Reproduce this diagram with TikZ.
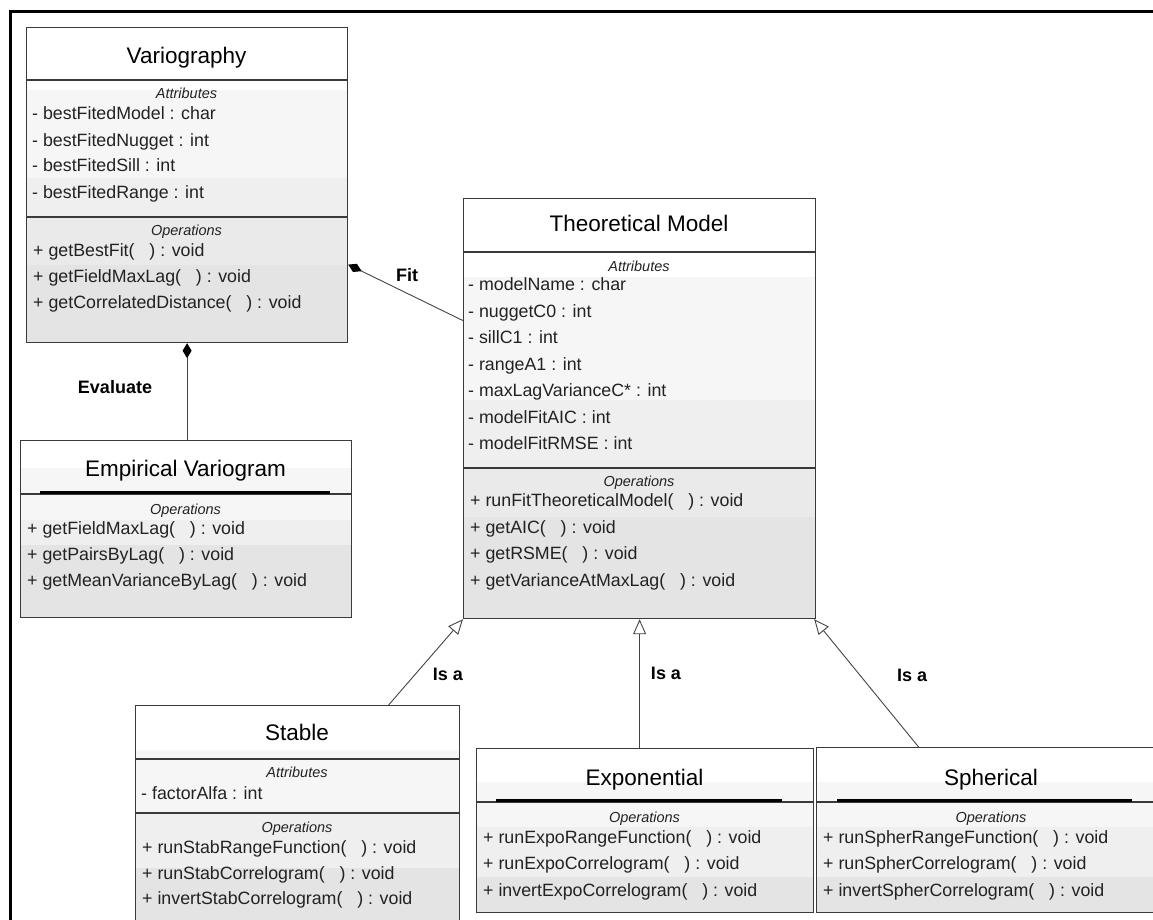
\documentclass[tikz,border=0pt]{standalone}
\usepackage{fontspec}
\setmainfont{Liberation Sans}
\usetikzlibrary{arrows.meta}
\definecolor{bA}{HTML}{F6F6F6}
\definecolor{bB}{HTML}{EFEFEF}
\definecolor{bC}{HTML}{EAEAEA}
\definecolor{bD}{HTML}{E4E4E4}
\definecolor{boxc}{HTML}{3A3A3A}
\definecolor{txtc}{HTML}{222222}
\definecolor{conc}{HTML}{444444}
\begin{document}
\begin{tikzpicture}[x=1pt,y=-1pt,
  cls/.style={draw=boxc, line width=1.2pt, inner sep=0pt, anchor=north west, fill=none},
  sepline/.style={draw=boxc, line width=1.4pt},
  thickline/.style={draw=black, line width=3pt},
  rowtxt/.style={anchor=base west, inner sep=0pt, text=txtc, font=\fontsize{17.8}{20}\selectfont},
  lbltxt/.style={anchor=base, inner sep=0pt, text=txtc, font=\itshape\fontsize{14.5}{16}\selectfont},
  ttltxt/.style={anchor=base, inner sep=0pt, text=black, font=\fontsize{22.5}{26}\selectfont},
  contxt/.style={anchor=center, inner sep=0pt, text=black, font=\bfseries\fontsize{18}{20}\selectfont},
  assoc/.style={draw=conc, line width=0.9pt, {Diamond[length=15pt,width=9pt,fill=black,color=black]}-},
  isa/.style={draw=conc, line width=0.9pt, -{Triangle[open,length=15pt,width=13pt]}}
]
\useasboundingbox (0,0) rectangle (1153,920);
\fill[white] (0,0) rectangle (1153,920);

% ---------- bands ----------
\fill[bA] (26,90) rectangle (347,178);
\fill[bB] (26,178) rectangle (347,217);
\fill[bC] (26,217) rectangle (347,265);
\fill[bD] (26,265) rectangle (347,342);

\fill[bA] (20,468) rectangle (351,520);
\fill[bB] (20,520) rectangle (351,545);
\fill[bD] (20,545) rectangle (351,617);

\fill[bA] (463,277) rectangle (815,400);
\fill[bB] (463,400) rectangle (815,468);
\fill[bC] (463,468) rectangle (815,517);
\fill[bD] (463,517) rectangle (815,618);

\fill[bA] (135,750) rectangle (459,813);
\fill[bB] (135,813) rectangle (459,868);
\fill[bD] (135,868) rectangle (459,935);

\fill[bA] (476,782) rectangle (813,827);
\fill[bB] (476,827) rectangle (813,877);
\fill[bD] (476,877) rectangle (813,912);

\fill[bA] (816,782) rectangle (1166,827);
\fill[bB] (816,827) rectangle (1166,877);
\fill[bD] (816,877) rectangle (1166,912);

% ---------- class boxes ----------
\node[cls, minimum width=321pt, minimum height=315pt] (var) at (26,27) {};
\node[cls, minimum width=331pt, minimum height=177pt] (emp) at (20,440) {};
\node[cls, minimum width=352pt, minimum height=420pt] (theo) at (463,198) {};
\node[cls, minimum width=324pt, minimum height=230pt] (stab) at (135,705) {};
\node[cls, minimum width=337pt, minimum height=164pt] (expo) at (476,748) {};
\node[cls, minimum width=350pt, minimum height=165pt] (sph) at (816,747) {};

% separators
\draw[sepline] (26,80) -- (347,80);
\draw[sepline] (26,217) -- (347,217);
\draw[sepline] (20,494) -- (351,494);
\draw[thickline] (40,492) -- (330,492);
\draw[sepline] (463,252) -- (815,252);
\draw[sepline] (463,468) -- (815,468);
\draw[sepline] (135,759) -- (459,759);
\draw[sepline] (135,813) -- (459,813);
\draw[sepline] (476,802) -- (813,802);
\draw[thickline] (496,800) -- (782,800);
\draw[sepline] (816,802) -- (1166,802);
\draw[thickline] (837,800) -- (1132,800);

% ---------- Variography ----------
\node[ttltxt] (varT) at (186.5,64) {Variography};
\node[lbltxt] (varA) at (186.5,99) {Attributes};
\node[rowtxt] (var1) at (32,120) {- bestFitedModel : char};
\node[rowtxt] (var2) at (32,146.5) {- bestFitedNugget : int};
\node[rowtxt] (var3) at (32,172) {- bestFitedSill : int};
\node[rowtxt] (var4) at (32,198) {- bestFitedRange : int};
\node[lbltxt] (varO) at (186.5,235.5) {Operations};
\node[rowtxt] (var5) at (33,256) {+ getBestFit(\ \ \ ) : void};
\node[rowtxt] (var6) at (33,282.5) {+ getFieldMaxLag(\ \ \ ) : void};
\node[rowtxt] (var7) at (33,308.5) {+ getCorrelatedDistance(\ \ \ ) : void};

% ---------- Empirical Variogram ----------
\node[ttltxt] (empT) at (185.5,476.5) {Empirical Variogram};
\node[lbltxt] (empO) at (185.5,514) {Operations};
\node[rowtxt] (emp1) at (27,534) {+ getFieldMaxLag(\ \ \ ) : void};
\node[rowtxt] (emp2) at (27,560.5) {+ getPairsByLag(\ \ \ ) : void};
\node[rowtxt] (emp3) at (27,586.5) {+ getMeanVarianceByLag(\ \ \ ) : void};

% ---------- Theoretical Model ----------
\node[ttltxt] (theoT) at (639,231) {Theoretical Model};
\node[lbltxt] (theoA) at (639,271.5) {Attributes};
\node[rowtxt] (theo1) at (468,290.5) {- modelName : char};
\node[rowtxt] (theo2) at (468,317.5) {- nuggetC0 : int};
\node[rowtxt] (theo3) at (468,343.5) {- sillC1 : int};
\node[rowtxt] (theo4) at (468,370.5) {- rangeA1 : int};
\node[rowtxt] (theo5) at (468,396.5) {- maxLagVarianceC* : int};
\node[rowtxt] (theo6) at (468,423.5) {- modelFitAIC : int};
\node[rowtxt] (theo7) at (468,449.5) {- modelFitRMSE : int};
\node[lbltxt] (theoO) at (639,486) {Operations};
\node[rowtxt] (theo8) at (470,506) {+ runFitTheoreticalModel(\ \ \ ) : void};
\node[rowtxt] (theo9) at (470,533) {+ getAIC(\ \ \ ) : void};
\node[rowtxt] (theo10) at (470,559) {+ getRSME(\ \ \ ) : void};
\node[rowtxt] (theo11) at (470,586) {+ getVarianceAtMaxLag(\ \ \ ) : void};

% ---------- Stable ----------
\node[ttltxt] (stabT) at (297,740) {Stable};
\node[lbltxt] (stabA) at (297,777) {Attributes};
\node[rowtxt] (stab1) at (141,799) {- factorAlfa : int};
\node[lbltxt] (stabO) at (297,832) {Operations};
\node[rowtxt] (stab2) at (142,853) {+ runStabRangeFunction(\ \ \ ) : void};
\node[rowtxt] (stab3) at (142,879) {+ runStabCorrelogram(\ \ \ ) : void};
\node[rowtxt] (stab4) at (142,904) {+ invertStabCorrelogram(\ \ \ ) : void};

% ---------- Exponential ----------
\node[ttltxt] (expoT) at (644.5,785) {Exponential};
\node[lbltxt] (expoO) at (644.5,822) {Operations};
\node[rowtxt] (expo1) at (483,843) {+ runExpoRangeFunction(\ \ \ ) : void};
\node[rowtxt] (expo2) at (483,869) {+ runExpoCorrelogram(\ \ \ ) : void};
\node[rowtxt] (expo3) at (483,896) {+ invertExpoCorrelogram(\ \ \ ) : void};

% ---------- Spherical ----------
\node[ttltxt] (sphT) at (991,785) {Spherical};
\node[lbltxt] (sphO) at (991,822) {Operations};
\node[rowtxt] (sph1) at (823,843) {+ runSpherRangeFunction(\ \ \ ) : void};
\node[rowtxt] (sph2) at (823,869) {+ runSpherCorrelogram(\ \ \ ) : void};
\node[rowtxt] (sph3) at (823,896) {+ invertSpherCorrelogram(\ \ \ ) : void};

% ---------- connectors ----------
\draw[assoc] (var.south) -- (var.south |- emp.north);
\draw[assoc] ([yshift=-79.5pt]var.east) -- ([yshift=88pt]theo.west);
\draw[isa] ([xshift=91pt]stab.north) -- (theo.south west);
\draw[isa] (theo.south |- expo.north) -- (theo.south);
\draw[isa] ([xshift=-73pt]sph.north) -- ([xshift=-2pt]theo.south east);

% ---------- connector labels ----------
\node[contxt] (lEval) at (115,387) {Evaluate};
\node[contxt] (lFit) at (407,275) {Fit};
\node[contxt] (lIs1) at (448,674) {Is a};
\node[contxt] (lIs2) at (666,673) {Is a};
\node[contxt] (lIs3) at (912,675) {Is a};

% ---------- frame ----------
\draw[black, line width=3.2pt] (10.7,940) -- (10.7,11.3) -- (1175,11.3);
\end{tikzpicture}
\end{document}
